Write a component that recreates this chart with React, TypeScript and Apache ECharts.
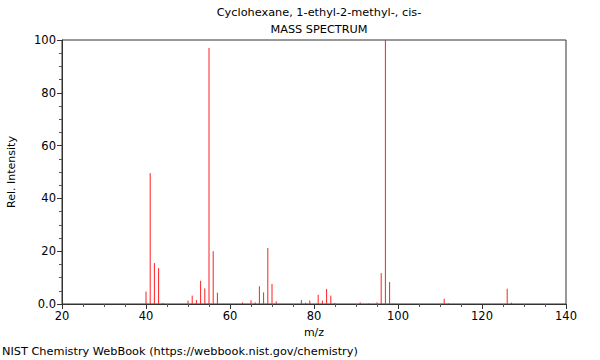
import React, { useEffect, useRef } from "react";
import * as echarts from "echarts";

const mz = [40, 41, 42, 43, 44, 50, 51, 52, 53, 54, 55, 56, 57, 63, 65, 66, 67, 68, 69, 70, 71, 77, 78, 79, 81, 82, 83, 84, 85, 91, 93, 95, 96, 97, 98, 99, 111, 112, 126, 127];
const intensity = [4.7, 49.6, 15.5, 13.6, 0.4, 1.3, 3.2, 1.5, 8.8, 5.9, 97, 20, 4.3, 0.6, 1.4, 0.6, 6.7, 4.4, 21.2, 7.6, 1.0, 1.5, 0.5, 1.3, 3.5, 1.3, 5.7, 3.2, 0.4, 0.6, 0.2, 0.6, 11.7, 100, 8.3, 0.2, 2.0, 0.2, 5.8, 0.5];

const titleLine1 = "Cyclohexane, 1-ethyl-2-methyl-, cis-";
const titleLine2 = "MASS SPECTRUM";
const footer = "NIST Chemistry WebBook (https://webbook.nist.gov/chemistry)";

export default function App() {
  const ref = useRef<HTMLDivElement>(null);
  useEffect(() => {
    if (!ref.current) return;
    const chart = echarts.init(ref.current, null, { renderer: "svg" });
    const data = mz.map((m, i) => [m, intensity[i]]);
    const font = "DejaVu Sans";
    chart.setOption({
      animation: false,
      textStyle: { fontFamily: font },
      title: [
        { text: titleLine1, left: 314, top: 2, textAlign: "center", textStyle: { fontSize: 11.3, fontWeight: "normal", color: "#000", fontFamily: font } },
        { text: titleLine2, left: 314, top: 19, textAlign: "center", textStyle: { fontSize: 11.3, fontWeight: "normal", color: "#000", fontFamily: font } },
        { text: footer, left: 2, top: 346, padding: 0, textStyle: { fontSize: 11.3, fontWeight: "normal", color: "#000", fontFamily: font } },
      ],
      grid: { left: 62, right: 34, top: 40, bottom: 56, outerBoundsMode: "none", containLabel: false, show: true, borderColor: "#333", borderWidth: 1, backgroundColor: "transparent" },
      xAxis: {
        type: "value",
        min: 20,
        max: 140,
        interval: 20,
        name: "m/z",
        nameLocation: "middle",
        nameGap: 23,
        nameTextStyle: { fontSize: 11, color: "#000", fontFamily: font },
        axisLine: { show: true, lineStyle: { color: "#333" } },
        axisTick: { show: true, length: 5, lineStyle: { color: "#333" } },
        minorTick: { show: true, splitNumber: 4, length: 3, lineStyle: { color: "#555" } },
        axisLabel: { fontSize: 11.5, color: "#000", margin: 6, fontFamily: font },
        splitLine: { show: false },
      },
      yAxis: {
        type: "value",
        min: 0,
        max: 100,
        interval: 20,
        name: "Rel. Intensity",
        nameLocation: "middle",
        nameGap: 45,
        nameRotate: 90,
        nameTextStyle: { fontSize: 11, color: "#000", fontFamily: font },
        axisLine: { show: true, lineStyle: { color: "#333" } },
        axisTick: { show: true, length: 5, lineStyle: { color: "#333" } },
        minorTick: { show: true, splitNumber: 4, length: 3, lineStyle: { color: "#555" } },
        axisLabel: {
          fontSize: 11.5,
          color: "#000",
          margin: 6,
          fontFamily: font,
          formatter: (v: number) => (v === 0 ? "0.0" : String(v)),
        },
        splitLine: { show: false },
      },
      series: [
        {
          type: "custom",
          data,
          renderItem: (params: any, api: any) => {
            const x = api.value(0);
            const y = api.value(1);
            const p0 = api.coord([x, 0]);
            const p1 = api.coord([x, y]);
            return {
              type: "line",
              shape: { x1: p0[0], y1: p0[1], x2: p1[0], y2: p1[1] },
              style: { stroke: "#ff2020", lineWidth: 1 },
            };
          },
        },
      ],
    });
    return () => chart.dispose();
  }, []);
  return <div ref={ref} style={{ width: 600, height: 360, position: "absolute", left: 0, top: 0 }} />;
}
